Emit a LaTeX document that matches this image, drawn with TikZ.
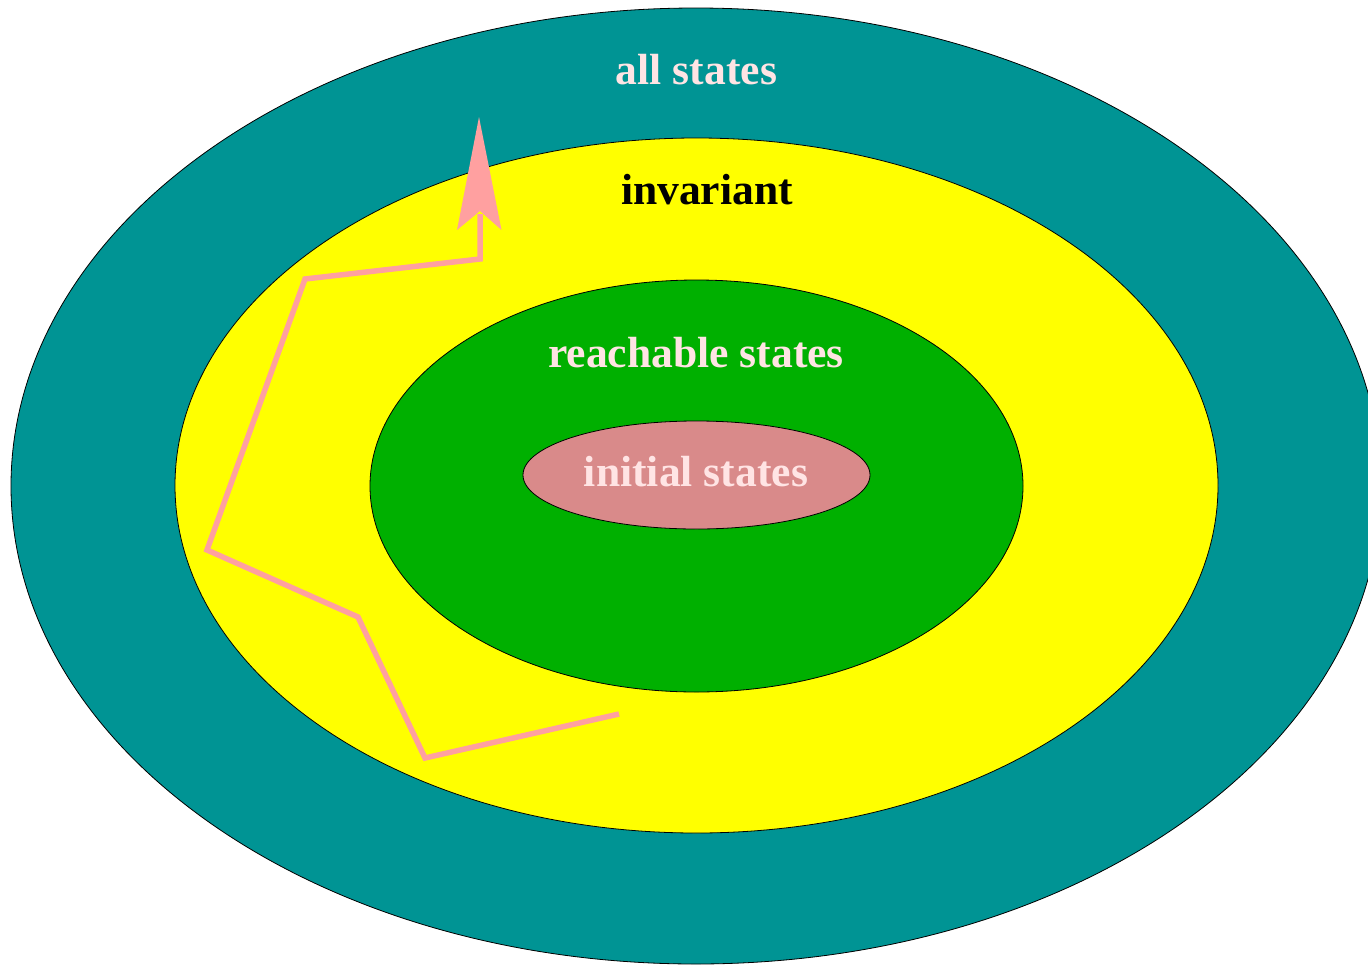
\documentclass[tikz,border=0pt]{standalone}
\usepackage{fontspec}
\setmainfont{Liberation Serif}
\definecolor{tealc}{HTML}{009494}
\definecolor{yellowc}{HTML}{FFFF00}
\definecolor{greenc}{HTML}{00B000}
\definecolor{pinkc}{HTML}{D98A8A}
\definecolor{textpink}{HTML}{FFE4E4}
\definecolor{arrowpink}{HTML}{FFA0A0}
\tikzset{
  region/.style={draw=black, line width=0.8pt},
  lbl/.style={font=\fontsize{43.6}{43.6}\selectfont\bfseries, inner sep=0pt},
  pathline/.style={draw=arrowpink, line width=5.5pt, line join=miter, line cap=butt},
}
\begin{document}
\begin{tikzpicture}[x=1pt,y=-1pt]
\useasboundingbox (0,0) rectangle (1368,964);
\clip (0,0) rectangle (1368,964);
\fill[white] (0,0) rectangle (1368,964);
\path[region, fill=tealc] (696,486) ellipse [x radius=685, y radius=478];
\path[region, fill=yellowc] (696.5,485.5) ellipse [x radius=521.5, y radius=347.5];
\path[region, fill=greenc] (696.5,486) ellipse [x radius=326.5, y radius=206];
\path[region, fill=pinkc] (696.5,475) ellipse [x radius=173.5, y radius=54];
\node[lbl, text=textpink] (all) at (696.5,70) {all states};
\node[lbl, text=black] (inv) at (707,190) {invariant};
\node[lbl, text=textpink] (reach) at (696,353) {reachable states};
\node[lbl, text=textpink] (init) at (696,472) {initial states};
\coordinate (p0) at (619,714);
\coordinate (p1) at (425,758);
\coordinate (p2) at (358,617);
\coordinate (p3) at (207,550);
\coordinate (p4) at (305,279);
\coordinate (p5) at (480,259);
\coordinate (p6) at (480,214);
\draw[pathline] (p0) -- (p1) -- (p2) -- (p3) -- (p4) -- (p5) -- (p6);
\fill[arrowpink] (479,117) -- (501.5,230) -- (480,211) -- (457,230) -- cycle;
\end{tikzpicture}
\end{document}
